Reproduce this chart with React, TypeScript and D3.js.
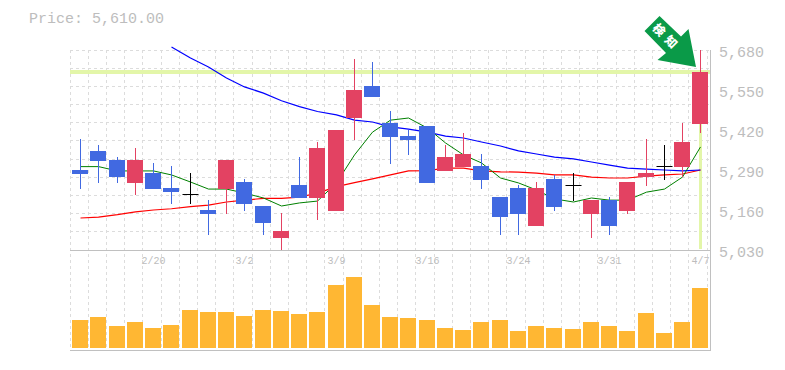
import React from "react";
import * as d3 from "d3";

const dates = ["2/16","2/17","2/18","2/19","2/20","2/24","2/25","2/26","2/27","3/2","3/3","3/4","3/5","3/6","3/9","3/10","3/11","3/12","3/13","3/16","3/17","3/18","3/19","3/23","3/24","3/25","3/26","3/27","3/30","3/31","4/1","4/2","4/3","4/6","4/7"];
const highs = [5391,5371,5332,5362,5313,5303,5280,5192,5322,5261,5173,5150,5332,5381,5420,5651,5641,5482,5420,5433,5371,5410,5342,5202,5241,5251,5274,5280,5192,5202,5251,5391,5371,5443,5680];
const opens = [5290,5352,5322,5248,5280,5232,5212,5160,5228,5251,5173,5069,5241,5199,5157,5459,5563,5443,5400,5433,5287,5300,5303,5202,5232,5108,5261,5241,5147,5192,5157,5267,5303,5300,5440];
const closes = [5277,5319,5267,5322,5228,5219,5212,5147,5322,5180,5118,5092,5199,5362,5420,5550,5527,5397,5388,5248,5332,5342,5258,5137,5147,5232,5170,5241,5192,5108,5251,5280,5303,5381,5610];
const lows = [5228,5248,5248,5209,5228,5180,5180,5079,5147,5157,5079,5030,5199,5128,5157,5388,5527,5310,5339,5248,5287,5300,5228,5079,5079,5108,5157,5189,5069,5079,5147,5238,5258,5267,5410];
const colorKinds = ["b","b","b","r","b","b","k","b","r","b","b","r","b","r","r","r","b","b","b","b","r","r","b","b","b","r","b","k","r","b","r","r","k","r","r"];
const ma5 = [5301,5301,5287,5287,5287,5274,5251,5228,5228,5215,5199,5173,5183,5189,5248,5339,5413,5452,5459,5426,5378,5339,5313,5264,5248,5225,5196,5186,5199,5192,5192,5218,5228,5267,5365];
const ma25 = [5134,5137,5145,5154,5160,5164,5171,5176,5186,5192,5198,5198,5202,5215,5236,5249,5261,5274,5287,5288,5296,5296,5287,5284,5283,5280,5274,5274,5267,5264,5264,5270,5274,5277,5290];
const ma75Start = 5;
const ma75 = [5690,5654,5625,5589,5560,5540,5515,5496,5480,5469,5452,5446,5430,5423,5413,5400,5394,5381,5368,5352,5342,5332,5326,5316,5306,5296,5293,5290,5287,5290];
const volumes = [28,31,22,26,20,23,38,36,36,32,38,37,34,36,63,71,43,31,30,28,20,18,26,28,17,22,20,19,26,22,17,35,15,26,60];
const priceTicks = [5680,5550,5420,5290,5160,5030];
const labelledDates = [4,9,14,19,24,29,34];
const dateLabels = ["2/20","3/2","3/9","3/16","3/24","3/31","4/7"];
const currentPrice = 5610;
const priceTitle = "Price: 5,610.00";
const signalLabel = "検知";

const FONT = "'Liberation Mono', 'DejaVu Sans Mono', monospace";
const LEFT = 71.5, RIGHT = 710, TOP = 50, BOTTOM = 250, VOLBOTTOM = 348;

export default function App() {
  const x = d3.scaleBand<number>().domain(d3.range(35)).range([LEFT, RIGHT]);
  const y = d3.scaleLinear().domain([5030, 5680]).range([BOTTOM, TOP]);
  const v = d3.scaleLinear().domain([0, 98]).range([VOLBOTTOM, 250]);
  const cx = (i: number) => Math.floor(x(i)! + x.bandwidth() / 2) + 0.5;
  const line = d3.line<number>().y(d => y(d));
  const toPath = (arr: number[], start = 0) =>
    line.x((_, i) => cx(i + start))(arr) ?? "";
  const vGrid = d3.range(36).map(i => Math.floor(70 + i * 18.2) + 0.5);
  const hGrid = d3.range(11).map(i => Math.floor(50 + i * (200 / 11)) + 0.5);
  const palette: Record<string, string> = { b: "#4169e1", r: "#e34262", k: "#000" };
  const hlY = y(currentPrice);

  return (
    <svg width={785} height={370} style={{ position: "absolute", left: 0, top: 0 }}>
      <text x={29} y={23} fontFamily={FONT} fontSize={15} fill="#bdbdbd">{priceTitle}</text>
      <g stroke="#dcdcdc" strokeWidth={1} strokeDasharray="3 3">
        {hGrid.map(g => <line key={g} x1={70} x2={710} y1={g} y2={g} />)}
        {vGrid.map(g => <line key={g} x1={g} x2={g} y1={50} y2={350} />)}
      </g>
      <g stroke="#c0c0c0" strokeWidth={1}>
        <line x1={70} x2={710} y1={250.5} y2={250.5} />
        <line x1={70} x2={710} y1={350.5} y2={350.5} />
        <line x1={710.5} x2={710.5} y1={50} y2={351} />
      </g>
      <rect x={70} y={Math.round(hlY - 2)} width={640} height={4} fill="#e3f6a9" />
      <rect x={Math.floor(cx(34)) - 1} y={hlY} width={3} height={BOTTOM - 1 - hlY} fill="#e3f6a9" />
      {priceTicks.map(t => (
        <text key={t} x={719} y={y(t) + 7} fontFamily={FONT} fontSize={15} fill="#bdbdbd">{d3.format(",")(t)}</text>
      ))}
      {labelledDates.map((d, i) => (
        <text key={d} x={cx(d)} y={264} textAnchor="middle" fontFamily={FONT} fontSize={10} fill="#bdbdbd">{dateLabels[i]}</text>
      ))}
      {volumes.map((d, i) => (
        <rect key={i} x={Math.floor(cx(i)) - 8} y={Math.round(v(d))} width={16} height={VOLBOTTOM - Math.round(v(d))} fill="#ffb733" />
      ))}
      <path d={toPath(ma25)} fill="none" stroke="#f00" strokeWidth={1.2} />
      <path d={toPath(ma75, ma75Start)} fill="none" stroke="#00f" strokeWidth={1.2} />
      <path d={toPath(ma5)} fill="none" stroke="#008000" strokeWidth={1} />
      {dates.map((_, i) => {
        const col = palette[colorKinds[i]];
        const top = Math.round(y(Math.max(opens[i], closes[i])));
        const bot = Math.round(y(Math.min(opens[i], closes[i])));
        return (
          <g key={i}>
            <line x1={cx(i)} x2={cx(i)} y1={Math.round(y(highs[i]))} y2={Math.round(y(lows[i]))} stroke={col} strokeWidth={1} />
            {colorKinds[i] === "k"
              ? <line x1={cx(i) - 8} x2={cx(i) + 8} y1={top + 0.5} y2={top + 0.5} stroke={col} strokeWidth={1} />
              : <rect x={Math.floor(cx(i)) - 8} y={top} width={16} height={Math.max(1, bot - top)} fill={col} />}
          </g>
        );
      })}
      <g>
        <polygon points="659.5,16 644.5,31 666,53 657.5,60 696,67 688.5,29 681,36.5" fill="#0a9a48" />
        <text transform="translate(666,38.5) rotate(45)" textAnchor="middle" dominantBaseline="middle" fontFamily="'Noto Sans CJK JP'" fontWeight={900} fontSize={12} letterSpacing={5} fill="#fff">{signalLabel}</text>
      </g>
    </svg>
  );
}
